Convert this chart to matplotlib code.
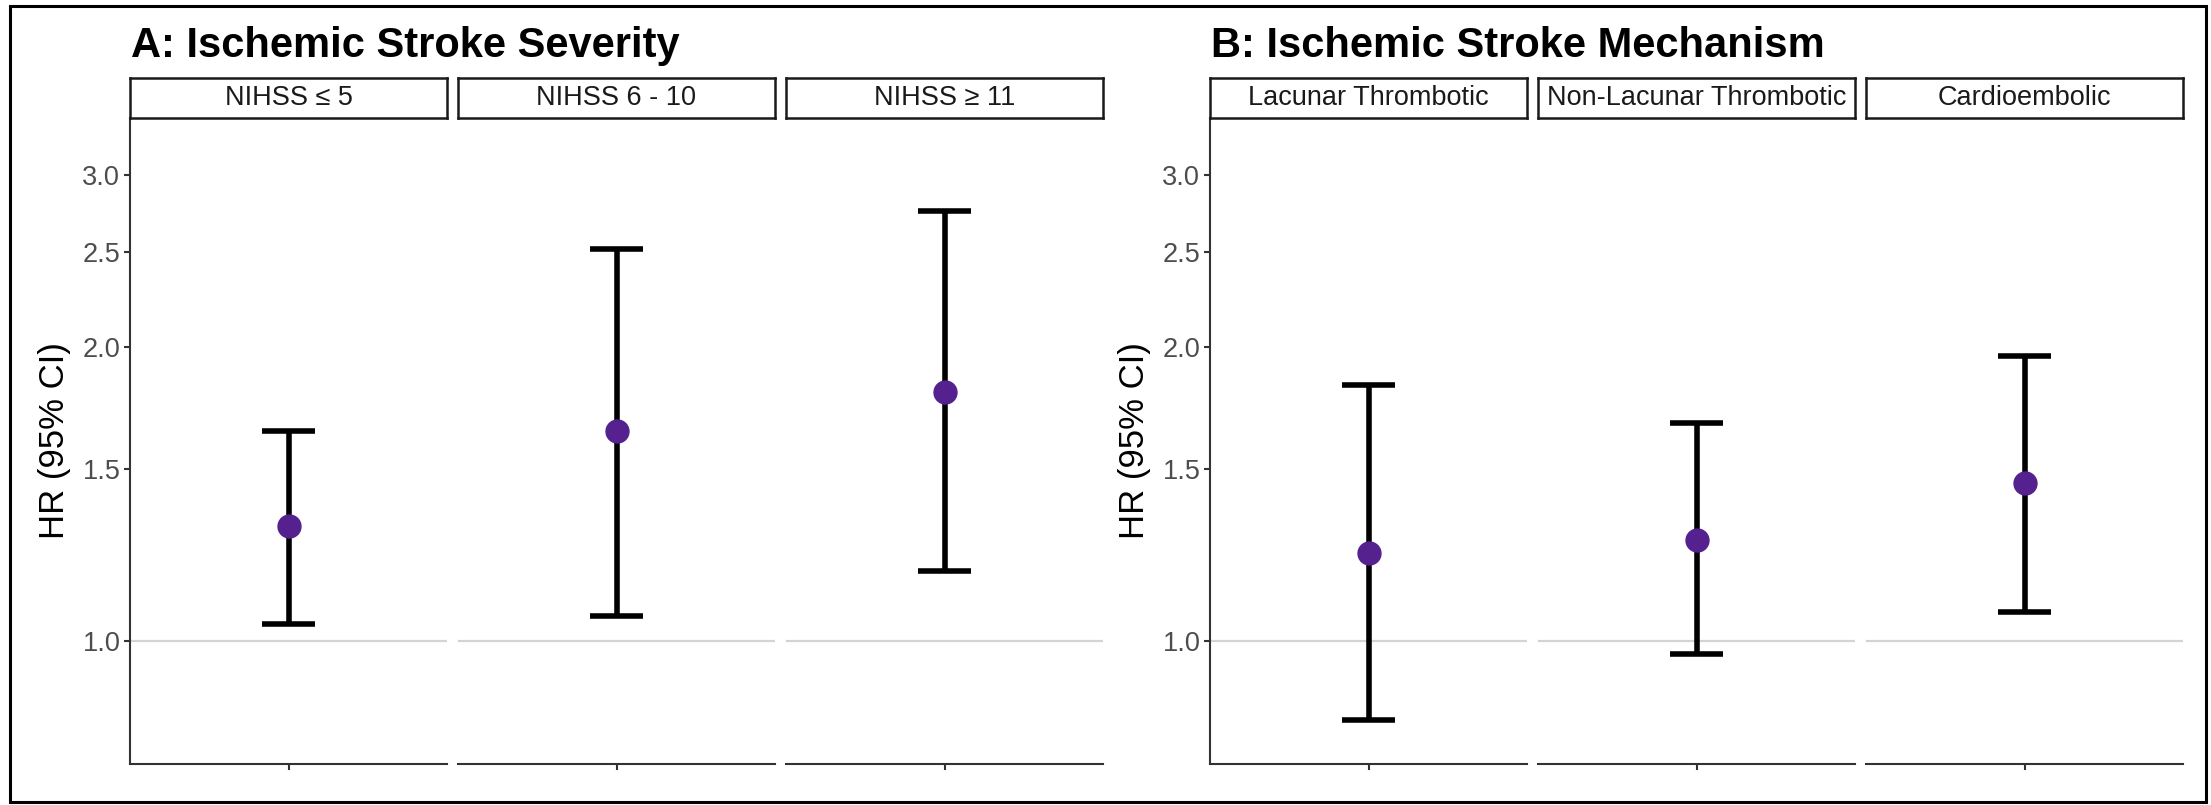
import matplotlib
matplotlib.use("Agg")
import matplotlib.pyplot as plt
from matplotlib.patches import Rectangle
from matplotlib.ticker import FixedLocator, NullLocator, FormatStrFormatter

plt.rcParams['font.family'] = ['Liberation Sans', 'DejaVu Sans']

# data
severity_labels = ['NIHSS \u2264 5', 'NIHSS 6 - 10', 'NIHSS \u2265 11']
severity_hr = [1.31, 1.64, 1.80]
severity_lo = [1.04, 1.06, 1.18]
severity_hi = [1.64, 2.52, 2.76]

mechanism_labels = ['Lacunar Thrombotic', 'Non-Lacunar Thrombotic', 'Cardioembolic']
mechanism_hr = [1.23, 1.27, 1.45]
mechanism_lo = [0.83, 0.97, 1.07]
mechanism_hi = [1.83, 1.67, 1.96]

y_ticks = [1.0, 1.5, 2.0, 2.5, 3.0]

W, H = 2211, 805
fig = plt.figure(figsize=(W / 100, H / 100), dpi=100)

# outer border
fig.patches.append(Rectangle((10 / W, 3 / H), (2206 - 10) / W, (799 - 3) / H,
                             transform=fig.transFigure, fill=False,
                             edgecolor='black', linewidth=2.2))

PT, PB = 118, 764      # panel top / bottom in pixels
ST = 78                # strip top
FW, GAP = 317, 11      # facet width, gap
point_color = '#54218E'
spine_color = '#333333'


def px_axes(x0, y0, x1, y1):
    return fig.add_axes([x0 / W, (H - y1) / H, (x1 - x0) / W, (y1 - y0) / H])


def panel(x_start, title, labels, hr, lo, hi):
    fig.text(x_start + 1, H - 57, title, transform=None, fontsize=30,
             fontweight='bold', ha='left', va='baseline')
    for i in range(len(labels)):
        x0 = x_start + i * (FW + GAP)
        ax = px_axes(x0, PT, x0 + FW, PB)
        ax.set_yscale('log')
        ax.set_ylim(0.748, 3.433)
        ax.set_xlim(0.4, 1.6)
        ax.axhline(1.0, color='#D3D3D3', linewidth=1.6, zorder=1)
        ax.vlines(1, lo[i], hi[i], color='black', linewidth=4, zorder=2)
        ax.hlines([lo[i], hi[i]], 0.9, 1.1, color='black', linewidth=4, zorder=2)
        ax.plot([1], [hr[i]], 'o', color=point_color, markersize=16.5, zorder=3)
        for s in ['top', 'right']:
            ax.spines[s].set_visible(False)
        ax.spines['bottom'].set_color(spine_color)
        ax.spines['bottom'].set_linewidth(1.5)
        ax.set_xticks([1])
        ax.set_xticklabels([''])
        ax.tick_params(axis='x', length=4, width=1.5, color=spine_color)
        ax.yaxis.set_major_locator(FixedLocator(y_ticks))
        ax.yaxis.set_minor_locator(NullLocator())
        if i == 0:
            ax.spines['left'].set_color(spine_color)
            ax.spines['left'].set_linewidth(1.5)
            ax.yaxis.set_major_formatter(FormatStrFormatter('%.1f'))
            ax.tick_params(axis='y', length=4, width=1.5, color=spine_color,
                           labelsize=19.5, labelcolor='#4D4D4D', pad=3)
            ax.set_ylabel('HR (95% CI)', fontsize=25, color='black', labelpad=8)
        else:
            ax.spines['left'].set_visible(False)
            ax.tick_params(axis='y', left=False, labelleft=False)
        # strip
        st = px_axes(x0, ST, x0 + FW, PT)
        st.set_xticks([])
        st.set_yticks([])
        for s in st.spines.values():
            s.set_color('#1A1A1A')
            s.set_linewidth(1.8)
        st.text(0.5, 0.5, labels[i], ha='center', va='center', fontsize=19.5,
                color='#1A1A1A', transform=st.transAxes)


panel(130, 'A: Ischemic Stroke Severity', severity_labels,
      severity_hr, severity_lo, severity_hi)
panel(1210, 'B: Ischemic Stroke Mechanism', mechanism_labels,
      mechanism_hr, mechanism_lo, mechanism_hi)

fig.savefig('out.png', dpi=100)
